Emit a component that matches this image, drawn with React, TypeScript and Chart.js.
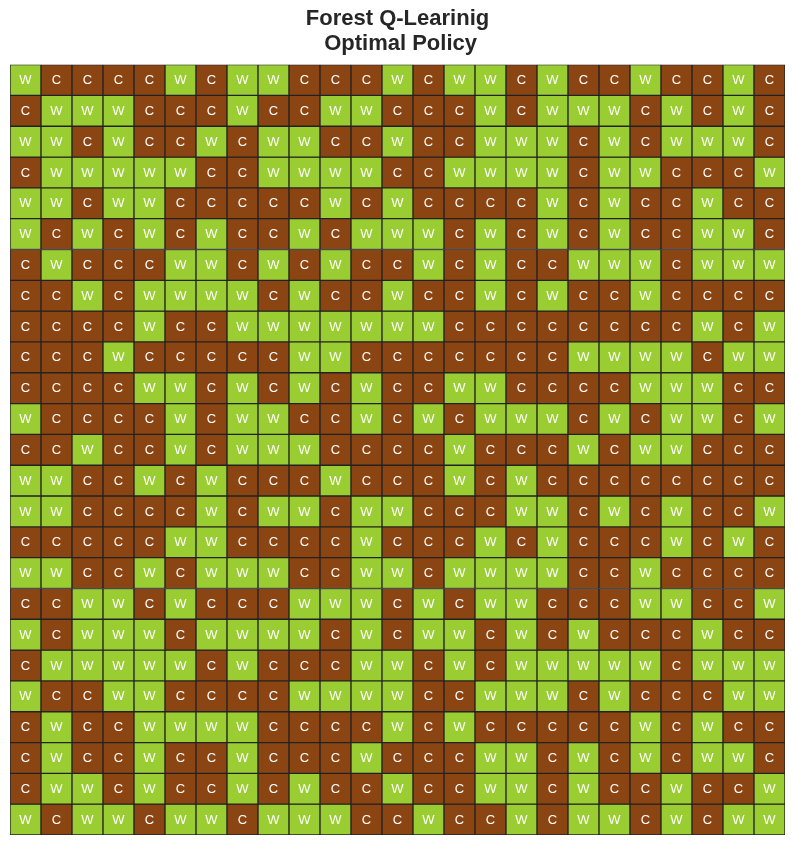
import React, { useEffect, useRef } from "react";
import { Chart, registerables } from "chart.js";

Chart.register(...registerables);

const TITLE_LINES = ["Forest Q-Learinig", " Optimal Policy"];
const COLUMNS = Array.from({ length: 25 }, (_, i) => String(i));

// Each row of the optimal policy, top to bottom (W = wait, C = cut)
const ROW_01 = "WCCCCWCWWCCCWCWWCWCCWCCWC";
const ROW_02 = "CWWWCCCWCCWWCCCWCWWWCWCWC";
const ROW_03 = "WWCWCCWCWWCCWCCWWWCWCWWWC";
const ROW_04 = "CWWWWWCCWWWWCCWWWWCWWCCCW";
const ROW_05 = "WWCWWCCCCCWCWCCCCWCWCCWCC";
const ROW_06 = "WCWCWCWCCWCWWWCWCWCWCCWWC";
const ROW_07 = "CWCCCWWCWCWCCWCWCCWWWCWWW";
const ROW_08 = "CCWCWWWWCWCCWCCWCWCCWCCCC";
const ROW_09 = "CCCCWCCWWWWWWWCCCCCCCCWCW";
const ROW_10 = "CCCWCCCCCWWCCCCCCCWWWWCWW";
const ROW_11 = "CCCCWWCWCWCWCCWWCCCCWWWCC";
const ROW_12 = "WCCCCWCWWCCWCWCWWWCWCWWCW";
const ROW_13 = "CCWCCWCWWWCCCCWCCCWCWWCCC";
const ROW_14 = "WWCCWCWCCCWCCCWCWCCCCCCCC";
const ROW_15 = "WWCCCCWCWWCWWCCCWWCWCWCCW";
const ROW_16 = "CCCCCWWCCCCWCCCWCWCCCWCWC";
const ROW_17 = "WWCCWCWWWCCWWCWWWWCCWCCCC";
const ROW_18 = "CCWWCWCCCWWWCWCWWCCCWWCCW";
const ROW_19 = "WCWWWCWWWWCWCWWCWCWCCCWCC";
const ROW_20 = "CWWWWWCWCCCWWCWCWWWWWCWWW";
const ROW_21 = "WCCWWCCCCWWWWCCWWWCWCCCWW";
const ROW_22 = "CWCCWWWWCCCCWCWCCCCCWCWCC";
const ROW_23 = "CWCCWCCWCCCWCCCWWCWCWCWWC";
const ROW_24 = "CWWCWCCWCWCCWCCWWCWCCWCCW";
const ROW_25 = "WCWWCWWCWWWCCWCCWCWWCWCWW";

const ROWS = [
  ROW_01, ROW_02, ROW_03, ROW_04, ROW_05, ROW_06, ROW_07, ROW_08, ROW_09, ROW_10,
  ROW_11, ROW_12, ROW_13, ROW_14, ROW_15, ROW_16, ROW_17, ROW_18, ROW_19, ROW_20,
  ROW_21, ROW_22, ROW_23, ROW_24, ROW_25,
];

const COLOR_W = "#9ACD32";
const COLOR_C = "#8B4513";

const cellLabels = {
  id: "cellLabels",
  afterDatasetsDraw(chart: any) {
    const ctx = chart.ctx;
    ctx.save();
    ctx.fillStyle = "#ffffff";
    ctx.font = "13px 'Liberation Sans', Arial, sans-serif";
    ctx.textAlign = "center";
    ctx.textBaseline = "middle";
    chart.data.datasets.forEach((ds: any, di: number) => {
      const meta = chart.getDatasetMeta(di);
      meta.data.forEach((el: any, i: number) => {
        const c = el.getCenterPoint();
        ctx.fillText(ds.cells[i], c.x, c.y + 0.5);
      });
    });
    ctx.restore();
  },
};

export default function App() {
  const ref = useRef<HTMLCanvasElement | null>(null);
  useEffect(() => {
    if (!ref.current) return;
    const datasets = ROWS.map((row, r) => {
      const cells = row.split("");
      return {
        label: "row" + r,
        data: cells.map(() => 1),
        cells,
        backgroundColor: cells.map((v) => (v === "W" ? COLOR_W : COLOR_C)),
        borderColor: "#222222",
        borderWidth: 1,
        borderSkipped: false,
        barPercentage: 1,
        categoryPercentage: 1,
        stack: "s",
      };
    });
    const chart = new Chart(ref.current, {
      type: "bar",
      data: { labels: COLUMNS, datasets: datasets as any },
      options: {
        responsive: false,
        animation: false,
        layout: { padding: { left: 10, right: 9, bottom: 10, top: 0 } },
        plugins: {
          legend: { display: false },
          tooltip: { enabled: false },
          title: {
            display: true,
            text: TITLE_LINES,
            color: "#262626",
            font: { family: "'Liberation Sans', Arial, sans-serif", size: 22, weight: "bold", lineHeight: 1.15 },
            padding: { top: 6, bottom: 8 },
          },
        },
        scales: {
          x: { stacked: true, display: false, grid: { display: false } },
          y: { stacked: true, display: false, reverse: true, min: 0, max: 25, grid: { display: false } },
        },
      },
      plugins: [cellLabels],
    });
    return () => chart.destroy();
  }, []);
  return (
    <div style={{ position: "absolute", left: 0, top: 0, width: 794, height: 845, background: "#fff" }}>
      <canvas ref={ref} width={794} height={845} style={{ display: "block" }} />
    </div>
  );
}
